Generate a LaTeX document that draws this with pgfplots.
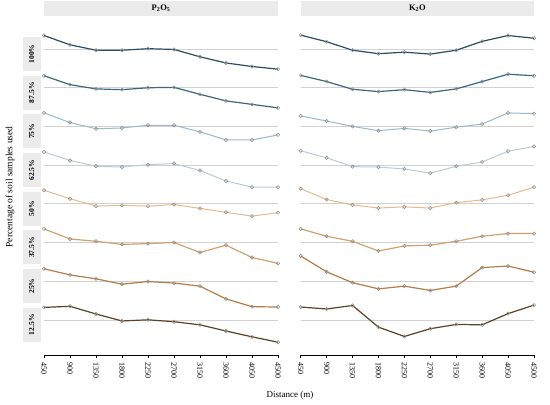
\documentclass[border=0pt]{standalone}
\usepackage{pgfplots}
\usepackage{pgfplotstable}
\pgfplotsset{compat=1.18}
\usepackage{fontspec}
\setmainfont{Liberation Serif}

\definecolor{cA}{HTML}{2F4B63}
\definecolor{cB}{HTML}{3D6683}
\definecolor{cC}{HTML}{9BB8CC}
\definecolor{cD}{HTML}{B7CCD9}
\definecolor{cE}{HTML}{E8B98F}
\definecolor{cF}{HTML}{D4A06D}
\definecolor{cG}{HTML}{B77C48}
\definecolor{cH}{HTML}{5E4027}
\definecolor{strip}{HTML}{EBEBEB}

% rows are offset: 100% row centred on 8, ..., 12.5% row centred on 1
\pgfplotstableread{
d    r100 r875 r75  r625 r50  r375 r25  r125
450  8.35 7.31 6.35 5.34 4.35 3.35 2.32 1.32
900  8.11 7.08 6.10 5.12 4.13 3.09 2.16 1.35
1350 7.97 6.97 5.94 4.97 3.94 3.03 2.06 1.15
1800 7.97 6.95 5.96 4.95 3.96 2.95 1.92 0.97
2250 8.01 7.00 6.03 5.01 3.94 2.97 1.99 1.00
2700 7.99 7.01 6.03 5.04 3.98 3.00 1.95 0.95
3150 7.80 6.83 5.86 4.86 3.88 2.74 1.87 0.87
3600 7.64 6.66 5.65 4.59 3.78 2.93 1.54 0.71
4050 7.55 6.57 5.65 4.43 3.68 2.61 1.34 0.56
4500 7.48 6.48 5.78 4.43 3.77 2.46 1.33 0.42
}\Ptab

\pgfplotstableread{
d    r100 r875 r75  r625 r50  r375 r25  r125
450  8.36 7.32 6.27 5.37 4.39 3.35 2.65 1.33
900  8.19 7.16 6.14 5.19 4.11 3.16 2.24 1.28
1350 7.97 6.96 6.00 4.96 3.97 3.03 1.96 1.37
1800 7.88 6.90 5.89 4.95 3.89 2.78 1.80 0.81
2250 7.92 6.95 5.95 4.90 3.92 2.91 1.87 0.57
2700 7.87 6.88 5.88 4.79 3.89 2.93 1.76 0.77
3150 7.97 6.97 5.98 4.97 4.03 3.03 1.87 0.88
3600 8.20 7.16 6.06 5.08 4.10 3.16 2.35 0.87
4050 8.35 7.35 6.35 5.36 4.22 3.23 2.39 1.16
4500 8.28 7.31 6.33 5.48 4.43 3.23 2.23 1.38
}\Ktab

\pgfplotsset{
  facet/.style={
    scale only axis, width=234pt, height=333pt,
    xmin=450, xmax=4500, ymin=0.09, ymax=8.7,
    axis x line*=bottom, axis y line*=left,
    y axis line style={draw=none},
    ytick style={draw=none},
    xtick={450,900,1350,1800,2250,2700,3150,3600,4050,4500},
    ytick={1,2,3,4,5,6,7,8},
    ymajorgrids, grid style={color=black!18, line width=0.6pt},
    /pgf/number format/.cd, 1000 sep={}, assume math mode=true, /pgfplots/.cd,
    xticklabel style={rotate=-90, anchor=west, font=\fontsize{8}{9}\selectfont, inner sep=1pt},
    xticklabel shift=3.5pt,
    tick align=outside, major tick length=3pt,
    x axis line style={line width=0.6pt},
    xtick style={line width=0.6pt, black},
    clip=false,
    title style={at={(0.5,1)}, anchor=south, yshift=0pt, fill=strip,
      minimum width=233pt, minimum height=15pt, inner sep=0pt,
      font=\fontsize{8.5}{10}\selectfont\bfseries},
    every axis plot/.append style={line width=1.2pt, mark=o, mark size=1.7pt,
      mark options={fill=white, draw=black!45, line width=0.5pt, solid}},
  },
}

\begin{document}
\begin{tikzpicture}
\path[use as bounding box] (0,0) rectangle (550pt,405pt);

\begin{axis}[facet, at={(44pt,50pt)}, anchor=south west,
  title={P\textsubscript{2}O\textsubscript{5}},
  yticklabels={12.5\%,25\%,37.5\%,50\%,62.5\%,75\%,87.5\%,100\%},
  yticklabel style={rotate=90, anchor=south, xshift=-5pt, fill=strip,
    minimum width=34pt, minimum height=18pt, inner sep=0pt,
    font=\fontsize{7.5}{8}\selectfont\bfseries}]
\addplot[cA] table[x=d,y=r100] {\Ptab};
\addplot[cB] table[x=d,y=r875] {\Ptab};
\addplot[cC, line width=1pt] table[x=d,y=r75] {\Ptab};
\addplot[cD, line width=1pt] table[x=d,y=r625] {\Ptab};
\addplot[cE, line width=1pt] table[x=d,y=r50] {\Ptab};
\addplot[cF] table[x=d,y=r375] {\Ptab};
\addplot[cG] table[x=d,y=r25] {\Ptab};
\addplot[cH] table[x=d,y=r125] {\Ptab};
\end{axis}

\begin{axis}[facet, at={(300.7pt,50pt)}, anchor=south west, width=233.3pt,
  title={K\textsubscript{2}O},
  yticklabels={}]
\addplot[cA] table[x=d,y=r100] {\Ktab};
\addplot[cB] table[x=d,y=r875] {\Ktab};
\addplot[cC, line width=1pt] table[x=d,y=r75] {\Ktab};
\addplot[cD, line width=1pt] table[x=d,y=r625] {\Ktab};
\addplot[cE, line width=1pt] table[x=d,y=r50] {\Ktab};
\addplot[cF] table[x=d,y=r375] {\Ktab};
\addplot[cG] table[x=d,y=r25] {\Ktab};
\addplot[cH] table[x=d,y=r125] {\Ktab};
\end{axis}

\node[rotate=90, font=\fontsize{9.5}{11}\selectfont] at (10pt,218pt) {Percentage of soil samples used};
\node[font=\fontsize{9}{11}\selectfont] at (290pt,10pt) {Distance (m)};
\end{tikzpicture}
\end{document}
